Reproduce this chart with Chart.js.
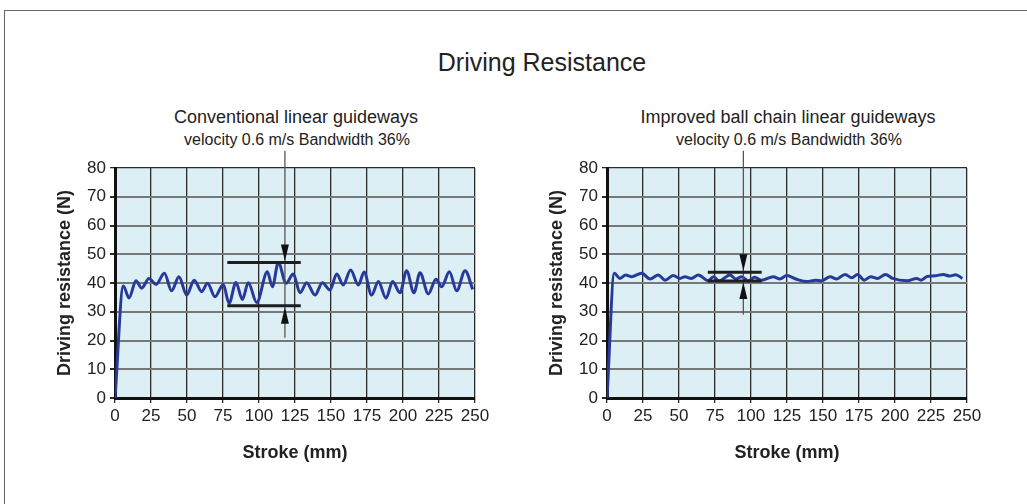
<!DOCTYPE html>
<html>
<head>
<meta charset="utf-8">
<title>Driving Resistance</title>
<script src="https://cdn.jsdelivr.net/npm/chart.js@4.4.1/dist/chart.umd.min.js"></script>
<style>
body { margin: 0; background: #fff; font-family: "Liberation Sans", Arial, sans-serif; color: #222; }
#page { position: relative; width: 1027px; height: 504px; overflow: hidden; }
.frame { position: absolute; left: 4px; top: 10px; width: 1100px; height: 600px; border: 1px solid #666; }
.txt { position: absolute; white-space: nowrap; transform: translateX(-50%); line-height: 1; }
canvas { position: absolute; top: 95px; }
</style>
</head>
<body>
<div id="page">
  <div class="frame"></div>
  <div class="txt" style="left:542px; top:50px; font-size:25px;">Driving Resistance</div>
  <div class="txt" style="left:296px; top:108px; font-size:18px;">Conventional linear guideways</div>
  <div class="txt" style="left:297px; top:132px; font-size:16px;">velocity 0.6 m/s Bandwidth 36%</div>
  <div class="txt" style="left:788px; top:108px; font-size:18px;">Improved ball chain linear guideways</div>
  <div class="txt" style="left:789px; top:132px; font-size:16px;">velocity 0.6 m/s Bandwidth 36%</div>
  <canvas id="leftChart" width="513" height="409" style="left:0px"></canvas>
  <canvas id="rightChart" width="513" height="409" style="left:492px"></canvas>
</div>
<script>
// Données (course en mm, effort en N)
const leftStroke = [0, 5.8, 9.7, 14.6, 18.5, 23.6, 28.5, 34.3, 39.3, 44.4, 49.8, 55, 60.2, 64.3, 69.4, 75.2, 79.2, 84, 88.4, 92.6,
    98.4, 105.8, 109.3, 113.4, 118.8, 123.8, 128.5, 133.1, 138.9, 144, 149.3, 154, 158.5, 163.6, 169, 173, 178.2, 182.9, 188.2, 192.8,
    197.9, 202.5, 207.6, 211.8, 217.6, 222.9, 226.9, 232.2, 237.3, 243.1, 248.4];
const leftForce = [0, 39, 34.8, 40.8, 38.2, 41.6, 39.5, 43.4, 37.3, 42.2, 35.8, 41, 37, 39.9, 35.2, 39.5, 32.9, 40.2, 34.3, 40.1,
    33.2, 43.9, 38.7, 47.1, 39.9, 43.1, 36.6, 40.1, 35.8, 40.1, 37.6, 43.1, 39.3, 44.5, 39.3, 43.8, 35.8, 40.5, 34.7, 40.5,
    36.6, 44.3, 36.6, 43.6, 36.2, 41.3, 38.7, 43.9, 37.3, 44.3, 37.8];

const rightStroke = [0, 5.1, 9, 13, 17.1, 24.1, 29.9, 35.6, 40.3, 46, 50.7, 54.2, 58.5, 63.4, 70.4, 73.8, 77.8, 85.4, 89.6, 93.5,
    98.1, 102.5, 107.4, 115.5, 120.1, 124.8, 131.7, 138.7, 145, 149, 154.9, 159.5, 165.3, 170, 174, 178.6, 183.2, 188, 193.4, 198.3,
    208.5, 215, 218.2, 222, 228, 233.5, 238, 242.2, 246.8];
const rightForce = [0, 43.4, 41.6, 42.8, 42.2, 43.4, 41.4, 42.8, 41, 42.6, 41.6, 42.2, 41.6, 42.8, 40.8, 42.2, 40.7, 42.8, 41.4, 42.2,
    40.7, 42, 41, 42.2, 41.4, 42.6, 41.3, 40.5, 41, 40.8, 42.2, 41.4, 43, 41.8, 43, 41, 42.2, 41.6, 43, 41.6,
    40.8, 41.6, 41, 42.2, 42.5, 43, 42.4, 42.9, 41.6];

// Bande de mesure : [début, fin] en mm, [bas, haut] en N, position de la flèche, étendue du trait vertical
const leftBandX = [78, 129];
const leftBandY = [32.1, 47.1];
const leftArrow = [118, 21, 86];
const rightBandX = [70, 107.4];
const rightBandY = [40.7, 43.7];
const rightArrow = [94.7, 29, 86];

const xTicks = [0, 250, 25];
const yTicks = [0, 80, 10];

const FONT = '"Liberation Sans", Arial, sans-serif';

// Fond bleu clair de la zone de tracé
const plotBg = {
    id: 'plotBg',
    beforeDraw(chart) {
        const a = chart.chartArea;
        const ctx = chart.ctx;
        ctx.save();
        ctx.fillStyle = '#dbeff4';
        ctx.fillRect(a.left, a.top, a.right - a.left, a.bottom - a.top);
        ctx.restore();
    }
};

// Traits de la bande passante et flèches
const bandMarks = {
    id: 'bandMarks',
    afterDatasetsDraw(chart, args, opts) {
        const xs = chart.scales.x, ys = chart.scales.y, ctx = chart.ctx;
        const x0 = xs.getPixelForValue(opts.bx[0]), x1 = xs.getPixelForValue(opts.bx[1]);
        const yLow = ys.getPixelForValue(opts.by[0]), yHigh = ys.getPixelForValue(opts.by[1]);
        const ax = xs.getPixelForValue(opts.arrow[0]);
        const yEnd = ys.getPixelForValue(opts.arrow[1]), yStart = ys.getPixelForValue(opts.arrow[2]);
        ctx.save();
        ctx.strokeStyle = '#555';
        ctx.lineWidth = 1.3;
        ctx.beginPath();
        ctx.moveTo(ax, yStart);
        ctx.lineTo(ax, yEnd);
        ctx.stroke();
        ctx.strokeStyle = '#1e1e1e';
        ctx.lineWidth = 3;
        ctx.beginPath();
        ctx.moveTo(x0, yHigh); ctx.lineTo(x1, yHigh);
        ctx.moveTo(x0, yLow); ctx.lineTo(x1, yLow);
        ctx.stroke();
        ctx.fillStyle = '#111';
        ctx.beginPath();
        ctx.moveTo(ax, yHigh - 1.5); ctx.lineTo(ax - 4, yHigh - 18); ctx.lineTo(ax + 4, yHigh - 18); ctx.closePath();
        ctx.moveTo(ax, yLow + 1.5); ctx.lineTo(ax - 4, yLow + 18); ctx.lineTo(ax + 4, yLow + 18); ctx.closePath();
        ctx.fill();
        ctx.restore();
    }
};

function makeChart(id, stroke, force, bx, by, arrow) {
    const points = stroke.map((s, i) => ({ x: s, y: force[i] }));
    return new Chart(document.getElementById(id), {
        type: 'line',
        data: {
            datasets: [{
                data: points,
                borderColor: '#27399a',
                borderWidth: 3,
                pointRadius: 0,
                fill: false,
                cubicInterpolationMode: 'monotone'
            }]
        },
        options: {
            responsive: false,
            animation: false,
            layout: { padding: { left: 0, right: 38, top: 73, bottom: 0 } },
            plugins: {
                legend: { display: false },
                tooltip: { enabled: false },
                bandMarks: { bx: bx, by: by, arrow: arrow }
            },
            scales: {
                x: {
                    type: 'linear',
                    min: xTicks[0], max: xTicks[1],
                    afterFit(scale) { scale.height = 106; },
                    ticks: { stepSize: xTicks[2], color: '#222', padding: 3, maxRotation: 0, font: { family: FONT, size: 17 } },
                    grid: { color: '#2a2a2a', lineWidth: 1.3, tickLength: 5, tickColor: '#2a2a2a' },
                    border: { color: '#111', width: 3 },
                    title: { display: true, text: 'Stroke (mm)', color: '#222', padding: { top: 0, bottom: 40 }, font: { family: FONT, size: 18, weight: 'bold' } }
                },
                y: {
                    min: yTicks[0], max: yTicks[1],
                    afterFit(scale) { scale.width = 115; },
                    ticks: { stepSize: yTicks[2], color: '#222', padding: 4, font: { family: FONT, size: 17 } },
                    grid: {
                        color: ctx => ctx.tick && ctx.tick.value === yTicks[1] ? '#2a2a2a' : '#777',
                        lineWidth: ctx => ctx.tick && ctx.tick.value === yTicks[1] ? 1.3 : 2,
                        tickLength: 5, tickColor: '#2a2a2a'
                    },
                    border: { color: '#111', width: 3 },
                    title: { display: true, text: 'Driving resistance (N)', color: '#222', padding: { top: 54, bottom: 0 }, font: { family: FONT, size: 18, weight: 'bold' } }
                }
            }
        },
        plugins: [plotBg, bandMarks]
    });
}

document.addEventListener('DOMContentLoaded', function() {
    makeChart('leftChart', leftStroke, leftForce, leftBandX, leftBandY, leftArrow);
    makeChart('rightChart', rightStroke, rightForce, rightBandX, rightBandY, rightArrow);
});
</script>
</body>
</html>
